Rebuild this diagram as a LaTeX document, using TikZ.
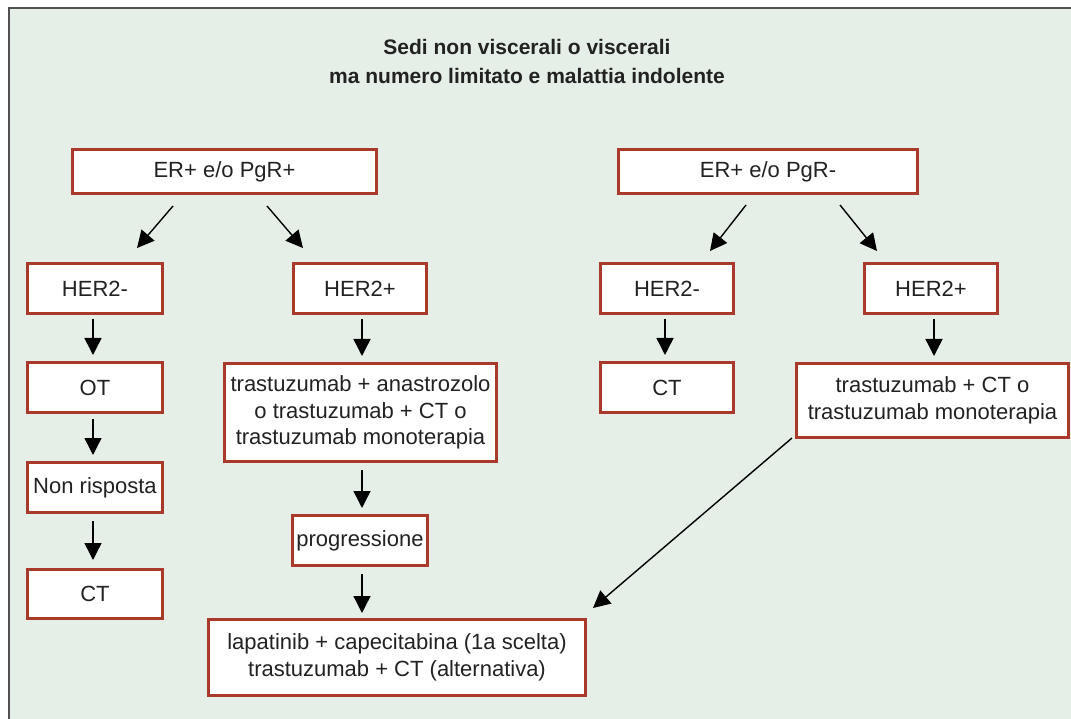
\documentclass[tikz,border=0pt]{standalone}
\usepackage{fontspec}
\setmainfont{Liberation Sans}
\usetikzlibrary{arrows.meta,calc}
\definecolor{bg}{HTML}{E5EFE7}
\definecolor{boxred}{HTML}{A8392B}
\definecolor{framecol}{HTML}{505050}
\definecolor{txt}{HTML}{222222}
\begin{document}
\begin{tikzpicture}[x=1pt,y=-1pt,
  box/.style={draw=boxred, line width=3pt, fill=white, inner sep=0pt, align=center,
    text=txt, font=\fontsize{22}{26.5}\selectfont},
  arr/.style={-{Triangle[length=17pt,width=17pt]}, line width=1.4pt, draw=black}]
\useasboundingbox (0,0) rectangle (1071,719);
\fill[white] (0,0) rectangle (1071,719);
\fill[bg] (9,8) rectangle (1071,719);
\draw[framecol, line width=2pt] (9,719) -- (9,8) -- (1071,8);

\node[align=center, text=txt, font=\fontsize{21}{29}\selectfont\bfseries] (title) at (527,61)
  {Sedi non viscerali o viscerali\\ma numero limitato e malattia indolente};

\node[box, minimum width=304pt, minimum height=44pt] (erp) at (224.5,171.5) {ER+ e/o PgR+};
\node[box, minimum width=299pt, minimum height=44pt] (erm) at (768,171.5) {ER+ e/o PgR-};

\node[box, minimum width=135pt, minimum height=50pt] (h2mL) at (95,288.5) {HER2-};
\node[box, minimum width=133pt, minimum height=50pt] (h2pL) at (360,288.5) {HER2+};
\node[box, minimum width=133pt, minimum height=50pt] (h2mR) at (667,288.5) {HER2-};
\node[box, minimum width=133pt, minimum height=50pt] (h2pR) at (931,288.5) {HER2+};

\node[box, minimum width=135pt, minimum height=50pt] (otL) at (95,387.5) {OT};
\node[box, minimum width=272pt, minimum height=98pt] (tana) at (360.5,412.5)
  {trastuzumab + anastrozolo\\o trastuzumab + CT o\\trastuzumab monoterapia};
\node[box, minimum width=133pt, minimum height=50pt] (ctR) at (667,387.5) {CT};
\node[box, minimum width=272pt, minimum height=74pt] (tct) at (932.5,400.5)
  {trastuzumab + CT o\\trastuzumab monoterapia};

\node[box, minimum width=135pt, minimum height=50pt] (nonr) at (95,487.5) {Non risposta};
\node[box, minimum width=135pt, minimum height=50pt] (prog) at (360,540.5) {progressione};
\node[box, minimum width=135pt, minimum height=49pt] (ctL) at (95,594) {CT};
\node[box, minimum width=377pt, minimum height=76pt] (lap) at (397,657.5)
  {lapatinib + capecitabina (1a scelta)\\trastuzumab + CT (alternativa)};

% diagonal arrows from ER boxes
\draw[arr] ([xshift=-51.5pt,yshift=-11pt]erp.south) -- ([xshift=42pt,yshift=14pt]h2mL.north);
\draw[arr] ([xshift=42.5pt,yshift=-11pt]erp.south) -- ([xshift=-57pt,yshift=14pt]h2pL.north);
\draw[arr] ([xshift=-22pt,yshift=-10pt]erm.south) -- ([xshift=43pt,yshift=11pt]h2mR.north);
\draw[arr] ([xshift=72pt,yshift=-10pt]erm.south) -- ([xshift=-54pt,yshift=11pt]h2pR.north);

% vertical arrows left column
\draw[arr] ([xshift=-2pt,yshift=-4pt]h2mL.south) -- ([xshift=-2pt,yshift=6pt]otL.north);
\draw[arr] ([xshift=-2pt,yshift=-5pt]otL.south) -- ([xshift=-2pt,yshift=6pt]nonr.north);
\draw[arr] ([xshift=-2pt,yshift=-7pt]nonr.south) -- ([xshift=-2pt,yshift=8pt]ctL.north);

% middle column
\draw[arr] ([xshift=2pt,yshift=-4pt]h2pL.south) -- ([xshift=1.5pt,yshift=6pt]tana.north);
\draw[arr] ([xshift=1.5pt,yshift=-7pt]tana.south) -- ([xshift=2pt,yshift=6pt]prog.north);
\draw[arr] ([xshift=2pt,yshift=-7pt]prog.south) -- ([xshift=-35pt,yshift=5pt]lap.north);

% right columns
\draw[arr] ([xshift=-2pt,yshift=-4pt]h2mR.south) -- ([xshift=-2pt,yshift=6pt]ctR.north);
\draw[arr] ([xshift=3pt,yshift=-4pt]h2pR.south) -- ([xshift=1.5pt,yshift=6pt]tct.north);

% long diagonal
\draw[arr] ([xshift=-3pt,yshift=1pt]tct.south west) -- ([xshift=6pt,yshift=10pt]lap.north east);
\end{tikzpicture}
\end{document}
